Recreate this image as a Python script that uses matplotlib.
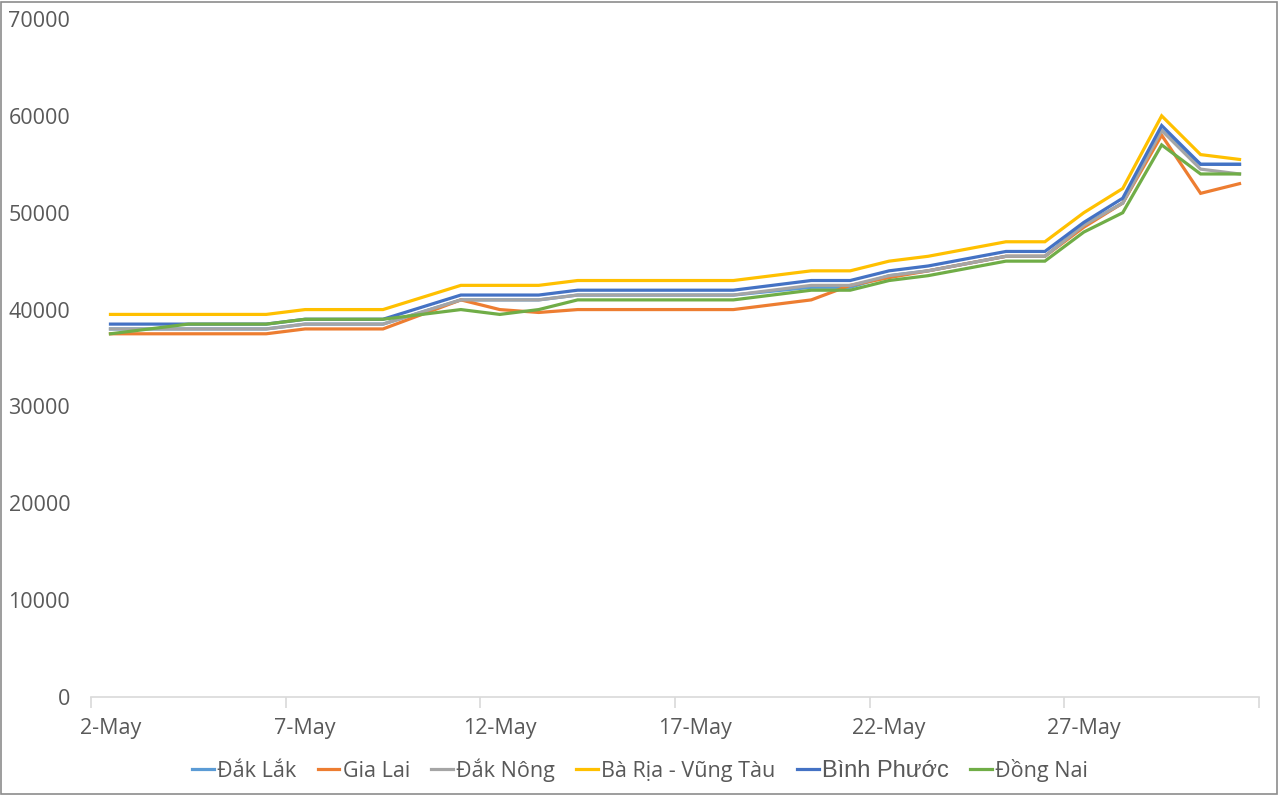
import matplotlib
matplotlib.use("Agg")
import matplotlib.pyplot as plt
from matplotlib.patches import Rectangle
from datetime import datetime

# ---- data ----
days = [2, 4, 6, 7, 9, 11, 12, 13, 14, 18, 20, 21, 22, 23, 25, 26, 27, 28, 29, 30, 31]
dak_lak   = [38000, 38000, 38000, 38500, 38500, 41000, 41000, 41000, 41500, 41500, 42300, 42300, 43500, 44000, 45500, 45500, 48700, 51000, 58500, 55000, 55000]
gia_lai   = [37500, 37500, 37500, 38000, 38000, 41000, 40000, 39700, 40000, 40000, 41000, 42500, 43300, 44000, 45500, 45500, 48500, 51000, 58000, 52000, 53000]
dak_nong  = [38000, 38000, 38000, 38500, 38500, 41000, 41000, 41000, 41500, 41500, 42500, 42500, 43500, 44000, 45500, 45500, 48700, 51000, 58500, 54500, 54000]
ba_ria    = [39500, 39500, 39500, 40000, 40000, 42500, 42500, 42500, 43000, 43000, 44000, 44000, 45000, 45500, 47000, 47000, 50000, 52500, 60000, 56000, 55500]
binh_phuoc= [38500, 38500, 38500, 39000, 39000, 41500, 41500, 41500, 42000, 42000, 43000, 43000, 44000, 44500, 46000, 46000, 49000, 51500, 59000, 55000, 55000]
dong_nai  = [37500, 38500, 38500, 39000, 39000, 40000, 39500, 40000, 41000, 41000, 42000, 42000, 43000, 43500, 45000, 45000, 48000, 50000, 57000, 54000, 54000]

series_names = ["Đắk Lắk", "Gia Lai", "Đắk Nông", "Bà Rịa - Vũng Tàu", "Bình Phước", "Đồng Nai"]
series_values = [dak_lak, gia_lai, dak_nong, ba_ria, binh_phuoc, dong_nai]
colors = ["#5B9BD5", "#ED7D31", "#A5A5A5", "#FFC000", "#4472C4", "#70AD47"]

tick_days = [2, 7, 12, 17, 22, 27]
y_ticks = [0, 10000, 20000, 30000, 40000, 50000, 60000, 70000]

YEAR = 2021
dates = [datetime(YEAR, 5, d, 12) for d in days]

plt.rcParams['font.family'] = ['Open Sans', 'DejaVu Sans']

fig = plt.figure(figsize=(12.8, 7.95), dpi=100)
ax = fig.add_axes([91/1280, 1 - 697/795, (1259 - 91)/1280, (697 - 19)/795])

for name, vals, c in zip(series_names, series_values, colors):
    ax.plot(dates, vals, color=c, lw=2.3, label=name, solid_joinstyle='miter')

ax.set_xlim(datetime(YEAR, 5, 2), datetime(YEAR, 6, 1))
ax.set_ylim(0, 70000)
# major ticks mark day-bin boundaries, labels centred in the bins (minor ticks)
xt = [datetime(YEAR, 5, d) for d in tick_days] + [datetime(YEAR, 6, 1)]
ax.set_xticks(xt)
ax.set_xticklabels([""] * len(xt))
ax.set_xticks([datetime(YEAR, 5, d, 12) for d in tick_days], minor=True)
ax.set_xticklabels([f"{d}-May" for d in tick_days], minor=True)
ax.set_yticks(y_ticks)
ax.set_yticklabels([str(v) for v in y_ticks])

for s in ["left", "top", "right"]:
    ax.spines[s].set_visible(False)
ax.spines["bottom"].set_color("#D9D9D9")
ax.spines["bottom"].set_linewidth(1.2)
ax.tick_params(axis='x', which='major', length=8, width=1.2, color="#D9D9D9")
ax.tick_params(axis='x', which='minor', length=0, labelsize=15.5,
               labelcolor="#595959", pad=15)
ax.tick_params(axis='y', length=0, labelsize=15.5, labelcolor="#595959", pad=15)

handles, labels = ax.get_legend_handles_labels()
leg = fig.legend(handles, labels, loc='center', bbox_to_anchor=(0.5, 1 - 770/795),
                 ncol=6, frameon=False, fontsize=15.5, handlelength=1.0,
                 handletextpad=0.15, columnspacing=1.0)
for t in leg.get_texts():
    t.set_color("#595959")
    if t.get_text() == "Bình Phước":
        t.set_fontfamily(["Liberation Sans", "DejaVu Sans"])
        t.set_fontsize(17)

fig.patches.append(Rectangle((0.001, 0.001), 0.997, 0.997, transform=fig.transFigure,
                             fill=False, ec="#8C8C8C", lw=1.2))

fig.savefig("out.png", dpi=100)
